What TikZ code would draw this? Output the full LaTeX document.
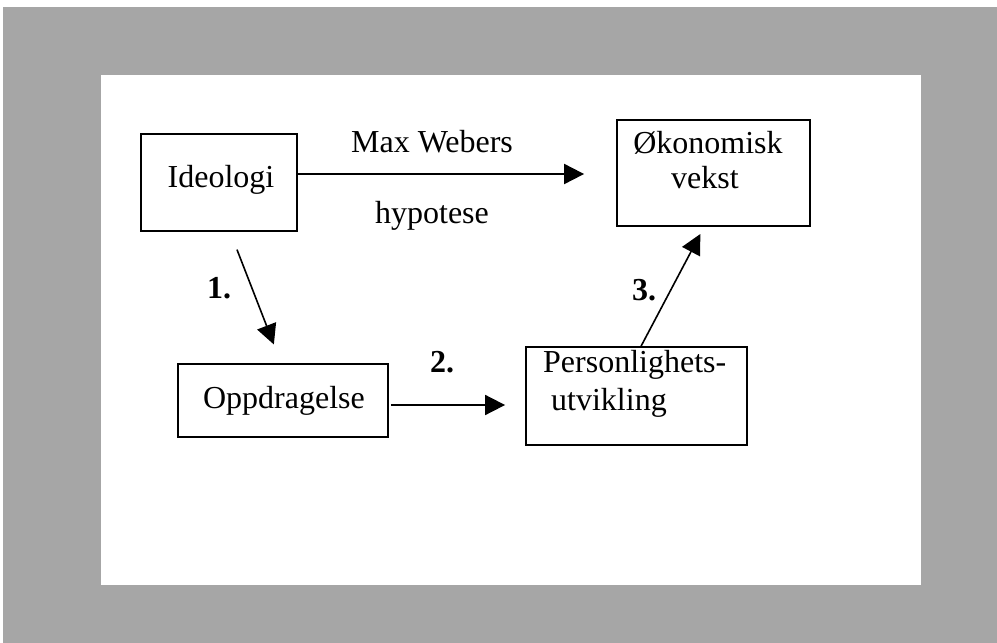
\documentclass[tikz,border=0pt]{standalone}
\usepackage{fontspec}
\setmainfont{Liberation Serif}
\usetikzlibrary{arrows.meta,calc}
\definecolor{screen}{RGB}{166,166,166}
\tikzset{
  box/.style={draw, line width=1.8pt, rectangle, inner sep=0pt},
  txt/.style={inner sep=0pt, font=\fontsize{32}{38}\selectfont},
  num/.style={txt, font=\fontsize{32}{38}\selectfont\bfseries},
  arr/.style={line width=1.6pt, -{Triangle[length=20pt,width=20pt]}}
}
\begin{document}
\begin{tikzpicture}[x=1pt, y=-1pt]
\useasboundingbox (0,0) rectangle (997,643);
% grey screened frame and white sheet
\fill[white] (0,0) rectangle (997,643);
\fill[screen] (3,7) rectangle (997,643);
\fill[white] (101,75) rectangle (921,585);

% boxes
\node[box, minimum width=156pt, minimum height=97pt] (ideo) at (219,182.5) {};
\node[box, minimum width=193pt, minimum height=106pt] (econ) at (713.5,173) {};
\node[box, minimum width=210pt, minimum height=73pt] (oppd) at (283,400.5) {};
\node[box, minimum width=221pt, minimum height=98pt] (pers) at (636.5,396) {};

% box texts
\node[txt, anchor=base] (tideo) at (221,187) {Ideologi};
\node[txt, anchor=base] (tecon1) at (708,153) {Økonomisk};
\node[txt, anchor=base] (tecon2) at (705,188) {vekst};
\node[txt, anchor=base] (toppd) at (284,408) {Oppdragelse};
\node[txt, anchor=base west] (tpers1) at (543,372) {Personlighets-};
\node[txt, anchor=base west] (tpers2) at (551,410) {utvikling};

% connector labels
\node[txt, anchor=base] (lweb1) at (432,152) {Max Webers};
\node[txt, anchor=base] (lweb2) at (432,223) {hypotese};
\node[num, anchor=base] (l1) at (219,298) {1.};
\node[num, anchor=base] (l2) at (442,372) {2.};
\node[num, anchor=base] (l3) at (644,300) {3.};

% connectors
\draw[arr, line width=2pt, shorten >=32pt] ($(ideo.east)+(0,-8.5)$) -- ($(econ.west)+(0,1)$);
\draw[arr, shorten <=19pt, shorten >=20pt]
  ($(ideo.south west)+(90,0)$) -- ($(oppd.north west)+(104,0)$);
\draw[arr, line width=1.8pt, shorten <=2pt, shorten >=20pt]
  ($(oppd.east)+(0,4.5)$) -- ($(pers.west)+(0,9)$);
\draw[arr, shorten >=8pt]
  ($(pers.north west)+(116,0)$) -- ($(econ.south west)+(88,0)$);
\end{tikzpicture}
\end{document}
